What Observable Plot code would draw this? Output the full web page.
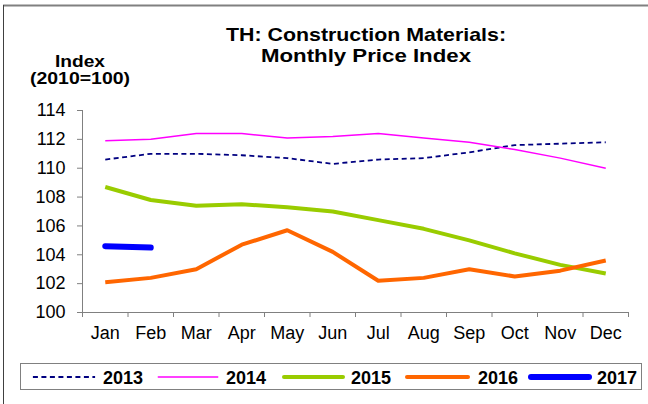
<!DOCTYPE html>
<html>
<head>
<meta charset="utf-8">
<script src="https://cdn.jsdelivr.net/npm/d3@7"></script>
<script src="https://cdn.jsdelivr.net/npm/@observablehq/plot@0.6"></script>
<style>
  body { margin: 0; background: #fff; font-family: "Liberation Sans", Arial, sans-serif; }
  #wrap { position: relative; width: 648px; height: 404px; overflow: hidden; }
  #wrap svg { position: absolute; left: 0; top: 0; }
</style>
</head>
<body>
<div id="wrap"></div>
<script>
const months = ["Jan","Feb","Mar","Apr","May","Jun","Jul","Aug","Sep","Oct","Nov","Dec"];
const years = ["2013","2014","2015","2016","2017"];
const v2013 = [110.6, 111.0, 111.0, 110.9, 110.7, 110.3, 110.6, 110.7, 111.1, 111.6, 111.7, 111.8];
const v2014 = [111.9, 112.0, 112.4, 112.4, 112.1, 112.2, 112.4, 112.1, 111.8, 111.3, 110.7, 110.0];
const v2015 = [108.7, 107.8, 107.4, 107.5, 107.3, 107.0, 106.4, 105.8, 105.0, 104.1, 103.3, 102.7];
const v2016 = [102.1, 102.4, 103.0, 104.7, 105.7, 104.2, 102.2, 102.4, 103.0, 102.5, 102.9, 103.6];
const v2017 = [104.6, 104.5];
const yTicks = [100, 102, 104, 106, 108, 110, 112, 114];
const titleLines = ["TH: Construction Materials:", "Monthly Price Index"];
const yLabelLines = ["Index", "(2010=100)"];

const seriesValues = {"2013": v2013, "2014": v2014, "2015": v2015, "2016": v2016, "2017": v2017};
const styles = {
  "2013": {stroke: "#000080", strokeWidth: 1.8, strokeDasharray: "5,3.5"},
  "2014": {stroke: "#FF00FF", strokeWidth: 1.5},
  "2015": {stroke: "#99CC00", strokeWidth: 4},
  "2016": {stroke: "#FF6600", strokeWidth: 4},
  "2017": {stroke: "#0000FF", strokeWidth: 6}
};
const rows = y => seriesValues[y].map((v, i) => ({m: i + 1, v}));
const boundaries = d3.range(0.5, 13, 1);

const plot = Plot.plot({
  width: 648,
  height: 404,
  marginTop: 110,
  marginBottom: 92,
  marginLeft: 82,
  marginRight: 20,
  style: {fontFamily: "Liberation Sans, Arial, sans-serif", fontSize: "18px", color: "#000", background: "transparent"},
  x: {type: "linear", domain: [0.5, 12.5]},
  y: {domain: [100, 114]},
  marks: [
    Plot.axisY({ticks: yTicks, tickSize: 5, tickPadding: 12, stroke: "#808080", label: null, tickFormat: d => String(d), fontSize: 18, fill: "#000"}),
    Plot.axisX({ticks: boundaries, tickSize: 5, tickFormat: () => "", stroke: "#808080", label: null}),
    Plot.axisX({ticks: months.map((_, i) => i + 1), tickSize: 0, tickPadding: 14, tickFormat: d => months[d - 1], label: null, fontSize: 18, fill: "#000"}),
    Plot.ruleX([0.5], {stroke: "#808080", strokeWidth: 1}),
    Plot.ruleY([100], {stroke: "#808080", strokeWidth: 1}),
    ...years.map(y => Plot.line(rows(y), {x: "m", y: "v", ...styles[y], strokeLinecap: y === "2017" ? "round" : "butt", strokeLinejoin: "round"}))
  ]
});
const wrap = document.getElementById("wrap");
wrap.appendChild(plot);

// overlay: frame, title, y label, legend
const ov = d3.select(wrap).append("svg").attr("width", 648).attr("height", 404)
  .style("font-family", "Liberation Sans, Arial, sans-serif");
ov.append("line").attr("x1", 3).attr("x2", 648).attr("y1", 5.5).attr("y2", 5.5).attr("stroke", "#808080").attr("stroke-width", 2);
ov.append("line").attr("x1", 3.5).attr("x2", 3.5).attr("y1", 5).attr("y2", 404).attr("stroke", "#404040").attr("stroke-width", 1);

const titleWidths = [280, 210];
titleLines.forEach((t, i) => ov.append("text").attr("x", 366).attr("y", 41 + i * 21)
  .attr("text-anchor", "middle").attr("font-weight", "bold").attr("font-size", 19)
  .attr("textLength", titleWidths[i]).attr("lengthAdjust", "spacingAndGlyphs").text(t));
const yLabelWidths = [50, 100];
yLabelLines.forEach((t, i) => ov.append("text").attr("x", 80).attr("y", 67 + i * 17)
  .attr("text-anchor", "middle").attr("font-weight", "bold").attr("font-size", 16.5)
  .attr("textLength", yLabelWidths[i]).attr("lengthAdjust", "spacingAndGlyphs").text(t));

ov.append("rect").attr("x", 20.5).attr("y", 363.5).attr("width", 621).attr("height", 26)
  .attr("fill", "none").attr("stroke", "#808080").attr("stroke-width", 1);
const legendLine = {"2013": [32, 96], "2014": [157, 219], "2015": [282, 345], "2016": [405, 470], "2017": [528, 592]};
const legendText = {"2013": 103, "2014": 226, "2015": 351, "2016": 478, "2017": 597};
years.forEach(y => {
  const s = styles[y];
  const [a, b] = legendLine[y];
  const ln = ov.append("line").attr("x1", a + s.strokeWidth / 2).attr("x2", b - s.strokeWidth / 2).attr("y1", 377).attr("y2", 377)
    .attr("stroke", s.stroke).attr("stroke-width", s.strokeWidth).attr("stroke-linecap", y === "2013" || y === "2014" ? "butt" : "round");
  if (s.strokeDasharray) ln.attr("stroke-dasharray", s.strokeDasharray);
  ov.append("text").attr("x", legendText[y]).attr("y", 383.5).attr("font-weight", "bold").attr("font-size", 18).text(y);
});
</script>
</body>
</html>
